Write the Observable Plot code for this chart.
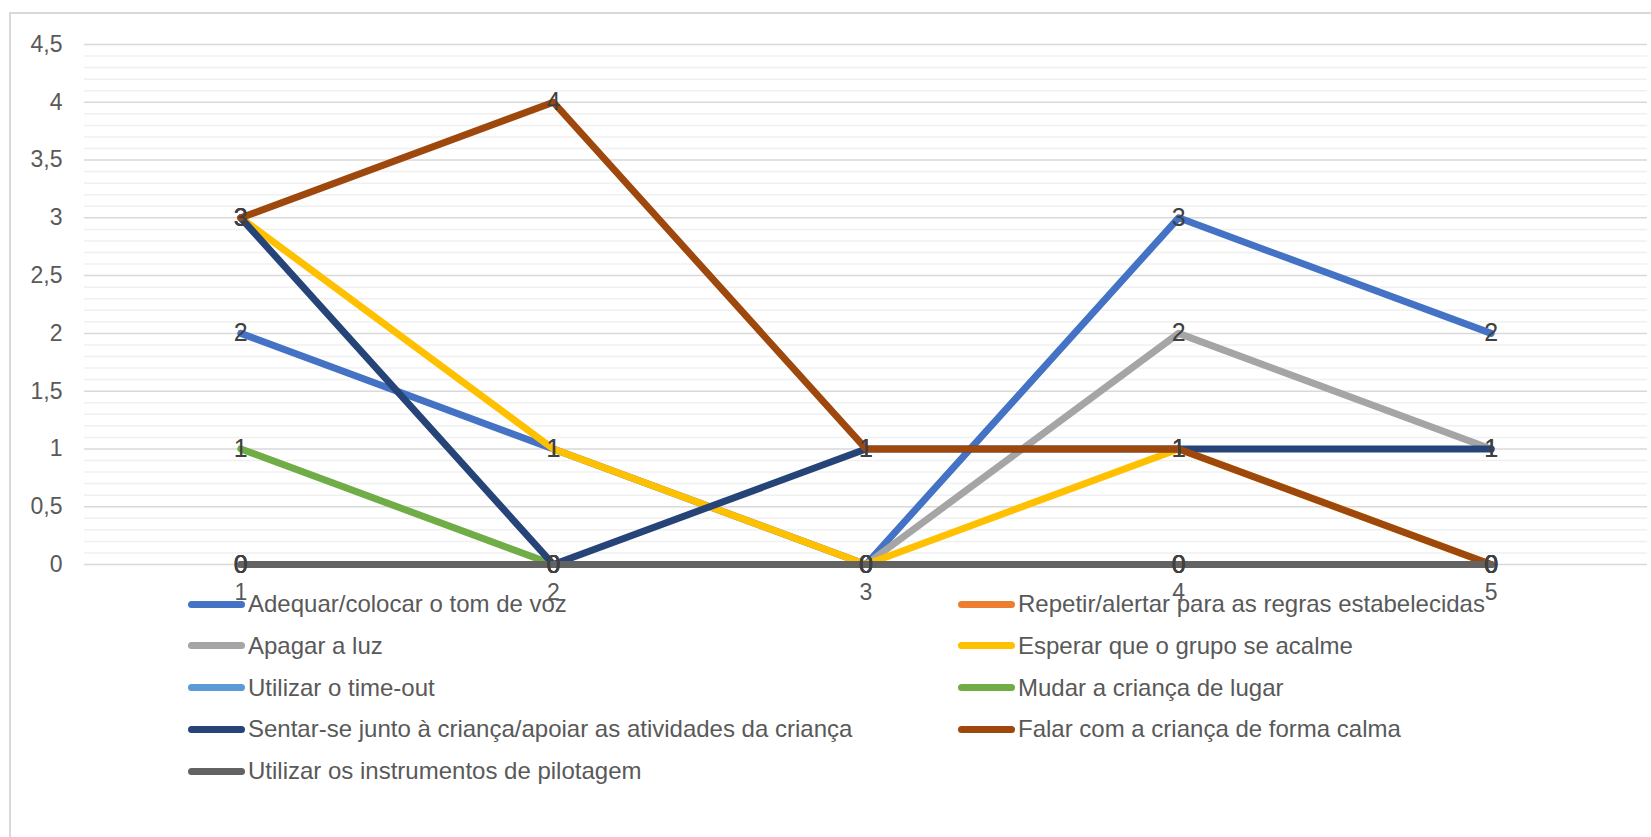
<!DOCTYPE html>
<html>
<head>
<meta charset="utf-8">
<script src="https://cdn.jsdelivr.net/npm/d3@7"></script>
<script src="https://cdn.jsdelivr.net/npm/@observablehq/plot@0.6"></script>
<style>
  html, body { margin: 0; padding: 0; background: #ffffff; overflow: hidden; }
  #wrap { position: relative; width: 1651px; height: 837px; overflow: hidden; font-family: "Liberation Sans", Arial, sans-serif; }
  #frame { position: absolute; left: 9px; top: 12px; width: 1700px; height: 900px; border: 2px solid #d9d9d9; box-sizing: border-box; }
  #chart { position: absolute; left: 0; top: 0; }
  #legend { position: absolute; left: 0; top: 0; width: 1651px; height: 837px; pointer-events: none; }
  .item { position: absolute; height: 24px; line-height: 24px; font-size: 24px; color: #595959; white-space: nowrap; }
  .sw { position: absolute; width: 57px; height: 7px; border-radius: 3.5px; }
</style>
</head>
<body>
<div id="wrap">
  <div id="frame"></div>
  <div id="chart"></div>
  <div id="legend"></div>
</div>
<script>
// ---- data ----
const categories = [1, 2, 3, 4, 5];
const seriesNames = [
  "Adequar/colocar o tom de voz",
  "Repetir/alertar para as regras estabelecidas",
  "Apagar a luz",
  "Esperar que o grupo se acalme",
  "Utilizar o time-out",
  "Mudar a criança de lugar",
  "Sentar-se junto à criança/apoiar as atividades da criança",
  "Falar com a criança de forma calma",
  "Utilizar os instrumentos de pilotagem"
];
const seriesColors = ["#4472C4", "#ED7D31", "#A5A5A5", "#FFC000", "#5B9BD5", "#70AD47", "#264478", "#9E480E", "#636363"];
const adequarTom     = [2, 1, 0, 3, 2];
const repetirRegras  = [0, 0, 0, 0, 0];
const apagarLuz      = [0, 0, 0, 2, 1];
const esperarGrupo   = [3, 1, 0, 1, 0];
const timeOut        = [0, 0, 0, 0, 0];
const mudarLugar     = [1, 0, 0, 0, 0];
const sentarJunto    = [3, 0, 1, 1, 1];
const falarCalma     = [3, 4, 1, 1, 0];
const instrumentos   = [0, 0, 0, 0, 0];
const seriesValues = [adequarTom, repetirRegras, apagarLuz, esperarGrupo, timeOut, mudarLugar, sentarJunto, falarCalma, instrumentos];
const yMajorTicks = [0, 0.5, 1, 1.5, 2, 2.5, 3, 3.5, 4, 4.5];
const yMinorTicks = d3.range(0, 45).map(i => i / 10).filter(v => Math.round(v * 10) % 5 !== 0);

// ---- table ----
const rows = [];
seriesNames.forEach((name, s) => {
  categories.forEach((c, i) => rows.push({series: name, cat: c, value: seriesValues[s][i]}));
});

const fmt = d => String(d).replace(".", ",");

const chart = Plot.plot({
  width: 1651,
  height: 837,
  marginLeft: 84,
  marginRight: 4,
  marginTop: 44,
  marginBottom: 273,
  style: {fontFamily: "'Liberation Sans', Arial, sans-serif", fontSize: "23px", background: "transparent", overflow: "visible"},
  x: {domain: [0.5, 5.5]},
  y: {domain: [0, 4.5]},
  color: {domain: seriesNames, range: seriesColors},
  marks: [
    Plot.ruleY(yMinorTicks, {stroke: "#f0f0f0", strokeWidth: 1.5}),
    Plot.ruleY(yMajorTicks, {stroke: "#d9d9d9", strokeWidth: 1.5}),
    Plot.axisY({ticks: yMajorTicks, tickSize: 0, tickPadding: 22, tickFormat: fmt, fill: "#595959", label: null}),
    Plot.axisX({ticks: categories, tickSize: 0, tickPadding: 19, tickFormat: d => String(d), fill: "#595959", label: null}),
    Plot.line(rows, {x: "cat", y: "value", z: "series", stroke: "series", strokeWidth: 7, strokeLinecap: "round", strokeLinejoin: "round"}),
    Plot.text(rows, {x: "cat", y: "value", text: d => fmt(d.value), fontSize: 25, fill: "#404040"})
  ]
});
document.getElementById("chart").appendChild(chart);

// ---- legend ----
const legend = document.getElementById("legend");
const colX = [188, 958];
const rowY0 = 604, rowStep = 41.75;
seriesNames.forEach((name, i) => {
  const col = i % 2, row = Math.floor(i / 2);
  const cy = rowY0 + row * rowStep;
  const sw = document.createElement("div");
  sw.className = "sw";
  sw.style.left = colX[col] + "px";
  sw.style.top = (cy - 3.5) + "px";
  sw.style.background = seriesColors[i];
  legend.appendChild(sw);
  const t = document.createElement("div");
  t.className = "item";
  t.style.left = (colX[col] + 60) + "px";
  t.style.top = (cy - 12) + "px";
  t.textContent = name;
  legend.appendChild(t);
});
</script>
</body>
</html>
